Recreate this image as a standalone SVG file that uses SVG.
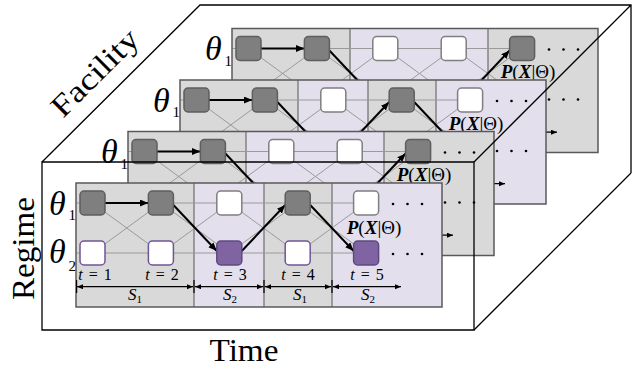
<svg xmlns="http://www.w3.org/2000/svg" width="636" height="370" viewBox="0 0 636 370">
<defs>
<marker id="ah" markerUnits="userSpaceOnUse" markerWidth="9" markerHeight="8" refX="8.5" refY="3.5" orient="auto"><path d="M0,0L8.5,3.5L0,7z" fill="#000"/></marker>
<marker id="sa" markerUnits="userSpaceOnUse" markerWidth="7" markerHeight="6" refX="6" refY="2.5" orient="auto-start-reverse"><path d="M0,0L6,2.5L0,5z" fill="#000"/></marker>
<style>
.pg{fill:#d9d9d9}
.pp{fill:#e4dfec}
.frame{fill:none;stroke:#595959;stroke-width:1.5}
.col{stroke:#6e6e6e;stroke-width:1.2;fill:none}
.grid{stroke:#9a9a9a;stroke-width:1;fill:none}
.nd{fill:#7f7f7f;stroke:#5e5e5e;stroke-width:1.5}
.nw{fill:#fff;stroke:#7f7f7f;stroke-width:1.5}
.nwp{fill:#fff;stroke:#6f5496;stroke-width:1.5}
.np{fill:#8064a2;stroke:#5e4a80;stroke-width:1.5}
.arr{stroke:#000;stroke-width:2;fill:none;marker-end:url(#ah)}
.span{stroke:#000;stroke-width:1.2;fill:none;marker-start:url(#sa);marker-end:url(#sa)}
.tick{stroke:#000;stroke-width:1.2}
.cube{fill:none;stroke:#000;stroke-width:1.3}
.dot{fill:#000}
text{font-family:"Liberation Serif",serif;fill:#000}
.th{font-size:34px;font-style:italic}
.sub{font-size:15px}
.tl{font-size:16px;text-anchor:middle;word-spacing:2px}
.sl{font-size:17px;text-anchor:middle}
.pl{font-size:19px;text-anchor:middle}
.bi{font-weight:bold;font-style:italic}
.big{font-size:31px;text-anchor:middle}
</style>
</defs>

<!-- Layer 1 (back) -->
<g id="layer1" transform="translate(232,28.5)">
<rect class="pg" x="0" y="0" width="118" height="124"/>
<rect class="pp" x="118" y="0" width="138" height="124"/>
<rect class="pg" x="256" y="0" width="110" height="124"/>
<path class="col" d="M118,0V124M256,0V124"/>
<path class="grid" d="M0,20H290.1M0,70H290.1M16.5,20L84.9,70M16.5,70L84.9,20M84.9,20L153.3,70M84.9,70L153.3,20M153.3,20L221.7,70M153.3,70L221.7,20M221.7,20L290.1,70M221.7,70L290.1,20"/>
<rect class="frame" x="0" y="0" width="366" height="124"/>
<g id="l1-arrows">
<line class="arr" x1="29" y1="20" x2="72.4" y2="20"/>
<line class="arr" x1="97.4" y1="22" x2="140.8" y2="68"/>
<line class="arr" x1="165.8" y1="70" x2="209.2" y2="70"/>
<line class="arr" x1="234.2" y1="68" x2="277.6" y2="22"/>
</g>
<g id="l1-nodes">
<rect class="nd" x="4" y="8" width="25" height="24" rx="4"/>
<rect class="nd" x="72.4" y="8" width="25" height="24" rx="4"/>
<rect class="nw" x="140.8" y="8" width="25" height="24" rx="4"/>
<rect class="nw" x="209.2" y="8" width="25" height="24" rx="4"/>
<rect class="nd" x="277.6" y="8" width="25" height="24" rx="4"/>
<rect class="nwp" x="4" y="58" width="25" height="24" rx="4"/>
<rect class="nwp" x="72.4" y="58" width="25" height="24" rx="4"/>
<rect class="np" x="140.8" y="58" width="25" height="24" rx="4"/>
<rect class="np" x="209.2" y="58" width="25" height="24" rx="4"/>
<rect class="nwp" x="277.6" y="58" width="25" height="24" rx="4"/>
</g>
<circle class="dot" cx="317" cy="21" r="1.3"/><circle class="dot" cx="331.5" cy="21" r="1.3"/><circle class="dot" cx="346" cy="21" r="1.3"/>
<circle class="dot" cx="317" cy="71" r="1.3"/><circle class="dot" cx="331.5" cy="71" r="1.3"/><circle class="dot" cx="346" cy="71" r="1.3"/>
<line class="span" x1="257" y1="103.7" x2="325" y2="103.7"/>
<text class="th" x="-27" y="31.5">θ</text><text class="sub" x="-7.5" y="37">1</text>
<text class="pl" x="296" y="49"><tspan class="bi">P</tspan>(<tspan class="bi">X</tspan>|Θ)</text>
</g>

<!-- Layer 2 -->
<g id="layer2" transform="translate(180,80)">
<rect class="pg" x="0" y="0" width="118" height="124"/>
<rect class="pp" x="118" y="0" width="70" height="124"/>
<rect class="pg" x="188" y="0" width="68" height="124"/>
<rect class="pp" x="256" y="0" width="110" height="124"/>
<path class="col" d="M118,0V124M188,0V124M256,0V124"/>
<path class="grid" d="M0,20H290.1M0,70H290.1M16.5,20L84.9,70M16.5,70L84.9,20M84.9,20L153.3,70M84.9,70L153.3,20M153.3,20L221.7,70M153.3,70L221.7,20M221.7,20L290.1,70M221.7,70L290.1,20"/>
<rect class="frame" x="0" y="0" width="366" height="124"/>
<g id="l2-arrows">
<line class="arr" x1="29" y1="20" x2="72.4" y2="20"/>
<line class="arr" x1="97.4" y1="22" x2="140.8" y2="68"/>
<line class="arr" x1="165.8" y1="68" x2="209.2" y2="22"/>
<line class="arr" x1="234.2" y1="22" x2="277.6" y2="68"/>
</g>
<g id="l2-nodes">
<rect class="nd" x="4" y="8" width="25" height="24" rx="4"/>
<rect class="nd" x="72.4" y="8" width="25" height="24" rx="4"/>
<rect class="nw" x="140.8" y="8" width="25" height="24" rx="4"/>
<rect class="nd" x="209.2" y="8" width="25" height="24" rx="4"/>
<rect class="nw" x="277.6" y="8" width="25" height="24" rx="4"/>
<rect class="nwp" x="4" y="58" width="25" height="24" rx="4"/>
<rect class="nwp" x="72.4" y="58" width="25" height="24" rx="4"/>
<rect class="np" x="140.8" y="58" width="25" height="24" rx="4"/>
<rect class="nwp" x="209.2" y="58" width="25" height="24" rx="4"/>
<rect class="np" x="277.6" y="58" width="25" height="24" rx="4"/>
</g>
<circle class="dot" cx="317" cy="21" r="1.3"/><circle class="dot" cx="331.5" cy="21" r="1.3"/><circle class="dot" cx="346" cy="21" r="1.3"/>
<circle class="dot" cx="317" cy="71" r="1.3"/><circle class="dot" cx="331.5" cy="71" r="1.3"/><circle class="dot" cx="346" cy="71" r="1.3"/>
<line class="span" x1="257" y1="103.7" x2="325" y2="103.7"/>
<text class="th" x="-27" y="31.5">θ</text><text class="sub" x="-7.5" y="37">1</text>
<text class="pl" x="296" y="50"><tspan class="bi">P</tspan>(<tspan class="bi">X</tspan>|Θ)</text>
</g>

<!-- Layer 3 -->
<g id="layer3" transform="translate(128,131.5)">
<rect class="pg" x="0" y="0" width="118" height="124"/>
<rect class="pp" x="118" y="0" width="138" height="124"/>
<rect class="pg" x="256" y="0" width="110" height="124"/>
<path class="col" d="M118,0V124M256,0V124"/>
<path class="grid" d="M0,20H290.1M0,70H290.1M16.5,20L84.9,70M16.5,70L84.9,20M84.9,20L153.3,70M84.9,70L153.3,20M153.3,20L221.7,70M153.3,70L221.7,20M221.7,20L290.1,70M221.7,70L290.1,20"/>
<rect class="frame" x="0" y="0" width="366" height="124"/>
<g id="l3-arrows">
<line class="arr" x1="29" y1="20" x2="72.4" y2="20"/>
<line class="arr" x1="97.4" y1="22" x2="140.8" y2="68"/>
<line class="arr" x1="165.8" y1="70" x2="209.2" y2="70"/>
<line class="arr" x1="234.2" y1="68" x2="277.6" y2="22"/>
</g>
<g id="l3-nodes">
<rect class="nd" x="4" y="8" width="25" height="24" rx="4"/>
<rect class="nd" x="72.4" y="8" width="25" height="24" rx="4"/>
<rect class="nw" x="140.8" y="8" width="25" height="24" rx="4"/>
<rect class="nw" x="209.2" y="8" width="25" height="24" rx="4"/>
<rect class="nd" x="277.6" y="8" width="25" height="24" rx="4"/>
<rect class="nwp" x="4" y="58" width="25" height="24" rx="4"/>
<rect class="nwp" x="72.4" y="58" width="25" height="24" rx="4"/>
<rect class="np" x="140.8" y="58" width="25" height="24" rx="4"/>
<rect class="np" x="209.2" y="58" width="25" height="24" rx="4"/>
<rect class="nwp" x="277.6" y="58" width="25" height="24" rx="4"/>
</g>
<circle class="dot" cx="317" cy="21" r="1.3"/><circle class="dot" cx="331.5" cy="21" r="1.3"/><circle class="dot" cx="346" cy="21" r="1.3"/>
<circle class="dot" cx="317" cy="71" r="1.3"/><circle class="dot" cx="331.5" cy="71" r="1.3"/><circle class="dot" cx="346" cy="71" r="1.3"/>
<line class="span" x1="257" y1="103.7" x2="325" y2="103.7"/>
<text class="th" x="-27" y="31.5">θ</text><text class="sub" x="-7.5" y="37">1</text>
<text class="pl" x="296" y="49"><tspan class="bi">P</tspan>(<tspan class="bi">X</tspan>|Θ)</text>
</g>

<!-- Cube outline -->
<g id="cube">
<path class="cube" d="M42,162H474V330H42Z"/>
<path class="cube" d="M42,162L200,5H631V173M474,162L631,5M474,330L631,173"/>
</g>

<!-- Layer 4 (front) -->
<g id="layer4" transform="translate(76,183)">
<rect class="pg" x="0" y="0" width="118" height="124"/>
<rect class="pp" x="118" y="0" width="70" height="124"/>
<rect class="pg" x="188" y="0" width="68" height="124"/>
<rect class="pp" x="256" y="0" width="110" height="124"/>
<path class="col" d="M118,0V124M188,0V124M256,0V124"/>
<path class="grid" d="M0,20H290.1M0,70H290.1M16.5,20L84.9,70M16.5,70L84.9,20M84.9,20L153.3,70M84.9,70L153.3,20M153.3,20L221.7,70M153.3,70L221.7,20M221.7,20L290.1,70M221.7,70L290.1,20"/>
<rect class="frame" x="0" y="0" width="366" height="124"/>
<g id="l4-arrows">
<line class="arr" x1="29" y1="20" x2="72.4" y2="20"/>
<line class="arr" x1="97.4" y1="22" x2="140.8" y2="68"/>
<line class="arr" x1="165.8" y1="68" x2="209.2" y2="22"/>
<line class="arr" x1="234.2" y1="22" x2="277.6" y2="68"/>
</g>
<g id="l4-nodes">
<rect class="nd" x="4" y="8" width="25" height="24" rx="4"/>
<rect class="nd" x="72.4" y="8" width="25" height="24" rx="4"/>
<rect class="nw" x="140.8" y="8" width="25" height="24" rx="4"/>
<rect class="nd" x="209.2" y="8" width="25" height="24" rx="4"/>
<rect class="nw" x="277.6" y="8" width="25" height="24" rx="4"/>
<rect class="nwp" x="4" y="58" width="25" height="24" rx="4"/>
<rect class="nwp" x="72.4" y="58" width="25" height="24" rx="4"/>
<rect class="np" x="140.8" y="58" width="25" height="24" rx="4"/>
<rect class="nwp" x="209.2" y="58" width="25" height="24" rx="4"/>
<rect class="np" x="277.6" y="58" width="25" height="24" rx="4"/>
</g>
<circle class="dot" cx="317" cy="21" r="1.3"/><circle class="dot" cx="331.5" cy="21" r="1.3"/><circle class="dot" cx="346" cy="21" r="1.3"/>
<circle class="dot" cx="317" cy="71" r="1.3"/><circle class="dot" cx="331.5" cy="71" r="1.3"/><circle class="dot" cx="346" cy="71" r="1.3"/>
<g id="l4-spans">
<line class="span" x1="1" y1="103.7" x2="117" y2="103.7"/>
<line class="span" x1="119" y1="103.7" x2="187" y2="103.7"/>
<line class="span" x1="189" y1="103.7" x2="255" y2="103.7"/>
<line class="span" x1="257" y1="103.7" x2="325" y2="103.7"/>
<path class="tick" d="M0.6,97V110M118,97V110M188,97V110M256,97V110"/>
</g>
<text class="th" x="-27" y="31.5">θ</text><text class="sub" x="-7.5" y="37">1</text>
<text class="th" x="-27" y="80">θ</text><text class="sub" x="-7.5" y="88">2</text>
<text class="tl" x="19" y="97"><tspan font-style="italic">t</tspan> = 1</text>
<text class="tl" x="86" y="97"><tspan font-style="italic">t</tspan> = 2</text>
<text class="tl" x="154" y="97"><tspan font-style="italic">t</tspan> = 3</text>
<text class="tl" x="222" y="97"><tspan font-style="italic">t</tspan> = 4</text>
<text class="tl" x="291" y="97"><tspan font-style="italic">t</tspan> = 5</text>
<text class="sl" x="59" y="117"><tspan font-style="italic">S</tspan><tspan font-size="11" dy="3">1</tspan></text>
<text class="sl" x="154" y="117"><tspan font-style="italic">S</tspan><tspan font-size="11" dy="3">2</tspan></text>
<text class="sl" x="224" y="117"><tspan font-style="italic">S</tspan><tspan font-size="11" dy="3">1</tspan></text>
<text class="sl" x="292" y="117"><tspan font-style="italic">S</tspan><tspan font-size="11" dy="3">2</tspan></text>
<text class="pl" x="298" y="51"><tspan class="bi">P</tspan>(<tspan class="bi">X</tspan>|Θ)</text>
</g>

<!-- Axis labels -->
<text class="big" transform="translate(34,248.5) rotate(-90)" textLength="103" lengthAdjust="spacingAndGlyphs">Regime</text>
<text class="big" transform="translate(102,80) rotate(-45)" textLength="110" lengthAdjust="spacingAndGlyphs">Facility</text>
<text class="big" x="244" y="361" textLength="69" lengthAdjust="spacingAndGlyphs">Time</text>
</svg>
